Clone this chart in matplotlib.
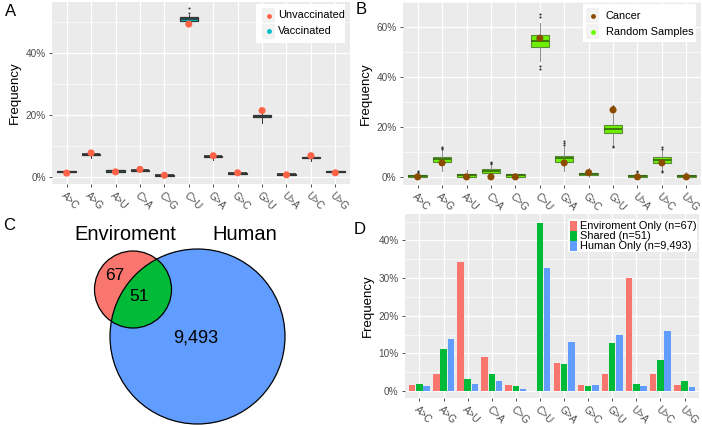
import matplotlib
matplotlib.use("Agg")

import matplotlib.pyplot as plt
import matplotlib.patches as mpatches
from matplotlib.lines import Line2D

plt.rcParams["font.family"] = ["Liberation Sans", "DejaVu Sans"]

W, H = 702, 425

# ---------------------------------------------------------------- data
mutations = ["A>C", "A>G", "A>U", "C>A", "C>G", "C>U",
             "G>A", "G>C", "G>U", "U>A", "U>C", "U>G"]

# Panel A: vaccinated (box stats, %) and unvaccinated (point, %)
vacc_lo = [1.3, 6.4, 1.6, 1.7, 0.4, 49.9, 5.6, 1.0, 17.6, 0.7, 5.3, 1.3]
vacc_q1 = [1.6, 7.2, 1.9, 2.1, 0.6, 50.4, 6.6, 1.2, 19.3, 0.9, 6.1, 1.6]
vacc_med = [1.8, 7.4, 2.1, 2.3, 0.7, 51.0, 6.8, 1.3, 19.7, 1.0, 6.3, 1.8]
vacc_q3 = [2.0, 7.6, 2.3, 2.5, 0.8, 51.6, 7.0, 1.4, 20.1, 1.1, 6.5, 2.0]
vacc_hi = [2.4, 7.9, 2.6, 2.8, 1.0, 52.2, 8.0, 1.6, 20.4, 1.4, 6.9, 2.3]
vacc_out = [[], [], [], [], [], [53.0, 54.5], [], [], [], [], [], []]
unvacc = [1.4, 7.9, 1.8, 2.6, 0.7, 49.3, 7.0, 1.5, 21.5, 0.85, 7.0, 1.5]

# Panel B: random samples (box stats, %) and cancer (point, %)
rand_lo = [0.0, 2.4, 0.0, 0.5, 0.0, 46.3, 2.3, 0.0, 13.3, 0.0, 2.6, 0.0]
rand_q1 = [0.1, 6.1, 0.1, 1.7, 0.1, 52.1, 5.9, 0.65, 17.4, 0.1, 5.6, 0.1]
rand_med = [0.3, 7.0, 0.7, 2.5, 0.6, 54.4, 7.4, 1.1, 19.2, 0.5, 6.7, 0.4]
rand_q3 = [0.6, 8.1, 1.3, 3.3, 1.0, 56.8, 8.5, 1.7, 20.9, 0.9, 7.8, 0.8]
rand_hi = [1.3, 10.8, 2.8, 4.5, 1.7, 61.4, 12.0, 3.5, 27.4, 1.3, 10.9, 1.9]
rand_out = [[1.6, 2.0, 2.4], [11.2, 11.6, 12.1], [], [5.0, 5.5, 6.0], [],
            [63.8, 65.2, 43.0, 44.5], [12.8, 13.5, 14.2], [],
            [28.2, 11.9, 12.3], [1.8, 2.4], [11.2, 11.8, 1.8, 2.2], []]
cancer = [0.0, 5.6, 0.0, 0.0, 0.0, 55.5, 5.6, 1.7, 26.8, 0.0, 5.6, 0.0]

# Panel C: venn counts
venn_sets = ["Enviroment", "Human"]
venn_counts = [67, 51, 9493]   # env only, shared, human only

# Panel D: frequency by group (%)
groups = ["Enviroment Only (n=67)", "Shared (n=51)", "Human Only (n=9,493)"]
env_only = [1.5, 4.5, 34.3, 9.0, 1.5, 0.0, 7.5, 1.5, 4.5, 29.9, 4.5, 1.5]
shared = [1.9, 11.1, 3.3, 4.4, 1.2, 44.6, 7.2, 1.2, 12.8, 1.9, 8.3, 2.6]
human_only = [1.3, 13.9, 1.9, 2.6, 0.4, 32.7, 13.1, 1.5, 15.0, 1.2, 15.8, 1.0]

# ---------------------------------------------------------------- style
GREY_BG = "#EBEBEB"
TICK_C = "#4D4D4D"
RED = "#F8766D"
GREEN = "#00BA38"
BLUE = "#619CFF"


def px_axes(fig, l, t, r, b, **kw):
    return fig.add_axes([l / W, 1 - b / H, (r - l) / W, (b - t) / H], **kw)


def gg_axes(ax, ylim, yticks):
    ax.set_facecolor(GREY_BG)
    for s in ax.spines.values():
        s.set_visible(False)
    ax.set_xlim(0.4, 12.6)
    ax.set_ylim(*ylim)
    ax.set_yticks(yticks)
    ax.set_yticklabels([f"{v:g}%" for v in yticks])
    step = yticks[1] - yticks[0]
    ax.set_yticks([v + step / 2 for v in yticks], minor=True)
    ax.set_xticks(range(1, 13))
    ax.set_xticklabels(mutations, rotation=-45, ha="left",
                       rotation_mode="anchor")
    ax.tick_params(axis="both", which="major", length=2.5, width=0.6,
                   color="#333333", labelsize=7.2, labelcolor=TICK_C, pad=2)
    ax.tick_params(axis="x", pad=2)
    ax.tick_params(which="minor", length=0)
    ax.grid(True, which="major", color="white", lw=0.9)
    ax.grid(True, which="minor", axis="y", color="white", lw=0.45)
    ax.set_axisbelow(True)
    ax.set_ylabel("Frequency", fontsize=9.5, color="black", labelpad=3)


def box_stats(lo, q1, med, q3, hi, out):
    return [dict(whislo=a, q1=b, med=c, q3=d, whishi=e, fliers=f)
            for a, b, c, d, e, f in zip(lo, q1, med, q3, hi, out)]


def point_legend(fig, box, rows, colors, text_x, key_x):
    l, t, r, b = box
    fig.patches.append(mpatches.Rectangle((l / W, 1 - b / H), (r - l) / W,
                                          (b - t) / H, transform=fig.transFigure,
                                          facecolor="white", edgecolor="none"))
    for (yc, label), c in zip(rows, colors):
        fig.patches.append(mpatches.Rectangle(
            (key_x / W, 1 - (yc + 7.5) / H), 13 / W, 15 / H,
            transform=fig.transFigure, facecolor="#F2F2F2", edgecolor="none"))
        fig.lines.append(Line2D([(key_x + 6.5) / W], [1 - yc / H],
                                transform=fig.transFigure, marker="o",
                                ms=3.5, color=c, mec="none"))
        fig.text(text_x / W, 1 - yc / H, label, fontsize=7.9, va="center",
                 ha="left")


fig = plt.figure(figsize=(W / 100, H / 100), dpi=100, facecolor="white")

# ---------------------------------------------------------------- A
axA = px_axes(fig, 52, 2, 350, 184)
gg_axes(axA, (-2.1, 56.4), [0, 20, 40])
axA.bxp(box_stats(vacc_lo, vacc_q1, vacc_med, vacc_q3, vacc_hi, vacc_out),
        positions=range(1, 13), widths=0.75, patch_artist=True,
        showcaps=False, manage_ticks=False,
        boxprops=dict(facecolor="#00BFC4", edgecolor="#333333", lw=0.9),
        medianprops=dict(color="#333333", lw=1.2),
        whiskerprops=dict(color="#333333", lw=0.7),
        flierprops=dict(marker="o", ms=1.5, mfc="#333333", mec="none"))
axA.scatter(range(1, 13), unvacc, s=26, color="#FF6347", zorder=5,
            edgecolors="none")
point_legend(fig, (256, 4, 345, 43),
             [(15.5, "Unvaccinated"), (31, "Vaccinated")],
             ["#FF6347", "#00BFC4"], 278, 262)

# ---------------------------------------------------------------- B
axB = px_axes(fig, 403, 2, 701, 185)
gg_axes(axB, (-3.25, 68.3), [0, 20, 40, 60])
axB.bxp(box_stats(rand_lo, rand_q1, rand_med, rand_q3, rand_hi, rand_out),
        positions=range(1, 13), widths=0.75, patch_artist=True,
        showcaps=False, manage_ticks=False,
        boxprops=dict(facecolor="#6CF000", edgecolor="#5C8A3A", lw=0.8),
        medianprops=dict(color="#2E5A10", lw=1.1),
        whiskerprops=dict(color="#8C8C8C", lw=0.7),
        flierprops=dict(marker="o", ms=1.5, mfc="#333333", mec="none"))
axB.scatter(range(1, 13), cancer, s=26, color="#8B4C00", zorder=5,
            edgecolors="none")
point_legend(fig, (583, 4, 696, 42),
             [(15.7, "Cancer"), (31.7, "Random Samples")],
             ["#8B4C00", "#66FF00"], 606, 586)

# ---------------------------------------------------------------- C
axC = px_axes(fig, 0, 212, 351, 425)
axC.set_xlim(0, 351)
axC.set_ylim(425, 212)
axC.axis("off")
small = mpatches.Circle((133, 289.5), 38.5, facecolor="#F8766D",
                        edgecolor="none")
big = mpatches.Circle((197.5, 336.5), 87.5, facecolor=BLUE, edgecolor="none")
inter = mpatches.Circle((133, 289.5), 38.5, facecolor=GREEN, edgecolor="none")
axC.add_patch(big)
axC.add_patch(small)
axC.add_patch(inter)
inter.set_clip_path(big)
axC.add_patch(mpatches.Circle((197.5, 336.5), 87.5, fill=False,
                              edgecolor="black", lw=0.9))
axC.add_patch(mpatches.Circle((133, 289.5), 38.5, fill=False,
                              edgecolor="black", lw=0.9))
axC.text(125, 235, venn_sets[0], fontsize=14.5, ha="center", va="center")
axC.text(245, 235, venn_sets[1], fontsize=14.5, ha="center", va="center")
axC.text(115, 276, f"{venn_counts[0]:,}", fontsize=12.5, ha="center",
         va="center")
axC.text(139, 297, f"{venn_counts[1]:,}", fontsize=12.5, ha="center",
         va="center")
axC.text(196, 338, f"{venn_counts[2]:,}", fontsize=13, ha="center",
         va="center")

# ---------------------------------------------------------------- D
axD = px_axes(fig, 405, 214, 699, 398)
gg_axes(axD, (-1.86, 47.0), [0, 10, 20, 30, 40])
xs = list(range(1, 13))
for k, (vals, c) in enumerate(zip([env_only, shared, human_only],
                                  [RED, GREEN, BLUE])):
    axD.bar([x + (k - 1) * 0.3 for x in xs], vals, width=0.27, color=c,
            label=groups[k], zorder=3)
fig.patches.append(mpatches.Rectangle((568 / W, 1 - 252 / H), 129 / W,
                                      33 / H, transform=fig.transFigure,
                                      facecolor="white", edgecolor="none"))
for k, (g, c) in enumerate(zip(groups, [RED, GREEN, BLUE])):
    yc = 226 + 10 * k
    fig.patches.append(mpatches.Rectangle((570 / W, 1 - (yc + 5) / H),
                                          7 / W, 10 / H,
                                          transform=fig.transFigure,
                                          facecolor=c, edgecolor="none"))
    fig.text(580 / W, 1 - yc / H, g, fontsize=7.9, va="center", ha="left")

# ---------------------------------------------------------------- letters
fig.text(5 / W, 1 - 12 / H, "A", fontsize=12, va="center", ha="left")
fig.text(356 / W, 1 - 10 / H, "B", fontsize=12, va="center", ha="left")
fig.text(3 / W, 1 - 226 / H, "C", fontsize=12, va="center", ha="left")
fig.text(354 / W, 1 - 229 / H, "D", fontsize=12, va="center", ha="left")

fig.savefig("out.png", dpi=100, facecolor="white")
